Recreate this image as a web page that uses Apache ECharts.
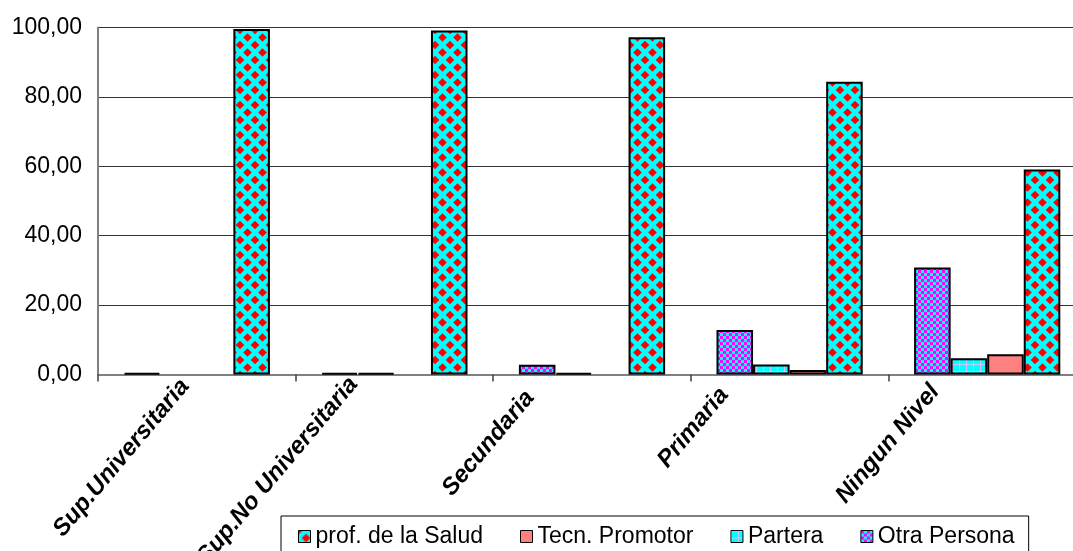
<!DOCTYPE html>
<html>
<head>
<meta charset="utf-8">
<script src="https://cdn.jsdelivr.net/npm/echarts@6/dist/echarts.min.js"></script>
<style>
html,body{margin:0;padding:0;background:#fff;}
#chart{width:1073px;height:551px;}
</style>
</head>
<body>
<div id="chart"></div>
<script>
const categories = ['Sup.Universitaria', 'Sup.No Universitaria', 'Secundaria', 'Primaria', 'Ningun Nivel'];
const otraPersona = [0.5, 0.5, 2.8, 12.8, 30.8];
const partera = [0, 0.4, 0.5, 2.9, 4.7];
const tecnPromotor = [0, 0, 0, 1.3, 5.8];
const profSalud = [99.6, 99.1, 97.2, 84.4, 59.1];
const legendOrder = ['prof. de la Salud', 'Tecn. Promotor', 'Partera', 'Otra Persona'];
const yTicks = { min: 0, max: 100, interval: 20 };

// label placement styles (per category), position only
const labelRich = ['l0', 'l1', 'l2', 'l3', 'l4'];
const FONT = 'Liberation Sans, Arial, sans-serif';
const baseLbl = { fontSize: 24, fontWeight: 'bold', fontStyle: 'italic', color: '#000', fontFamily: FONT };
const rich = {
  l0: Object.assign({ padding: [0, 9, 16, 0] }, baseLbl),
  l1: Object.assign({ padding: [0, 26, 63, 0] }, baseLbl),
  l2: Object.assign({ padding: [0, 50, 78, 0] }, baseLbl),
  l3: Object.assign({ padding: [0, 50, 87, 0] }, baseLbl),
  l4: Object.assign({ padding: [0, 39, 71, 0] }, baseLbl)
};

function makeCanvas(w, h, draw) {
  const c = document.createElement('canvas');
  c.width = w; c.height = h;
  draw(c.getContext('2d'));
  return c;
}
const diamondPat = makeCanvas(15, 15, function (ctx) {
  ctx.fillStyle = '#00FFFF'; ctx.fillRect(0, 0, 15, 15);
  ctx.fillStyle = '#FF0000';
  const d = function (cx, cy, r) {
    ctx.beginPath(); ctx.moveTo(cx, cy - r); ctx.lineTo(cx + r, cy); ctx.lineTo(cx, cy + r); ctx.lineTo(cx - r, cy); ctx.closePath(); ctx.fill();
  };
  const r = 4.3;
  d(7.5, 7.5, r); d(0, 0, r); d(15, 0, r); d(0, 15, r); d(15, 15, r);
});
const gridPat = makeCanvas(7, 7, function (ctx) {
  ctx.fillStyle = '#00FFFF'; ctx.fillRect(0, 0, 7, 7);
  ctx.fillStyle = '#C8C8FF'; ctx.fillRect(0, 0, 7, 1); ctx.fillRect(0, 0, 1, 7);
});
const checkPat = makeCanvas(6, 6, function (ctx) {
  ctx.fillStyle = '#00FFFF'; ctx.fillRect(0, 0, 6, 6);
  ctx.fillStyle = '#FF00FF'; ctx.fillRect(0, 0, 3, 3); ctx.fillRect(3, 3, 3, 3);
});

function bar(name, data, color) {
  return {
    name: name, type: 'bar',
    data: data.map(function (v) { return v === 0 ? { value: 0, itemStyle: { borderWidth: 0 } } : v; }),
    barGap: '0%', barCategoryGap: '26%',
    itemStyle: { color: color, borderColor: '#000', borderWidth: 2 },
    emphasis: { disabled: true }
  };
}

const chart = echarts.init(document.getElementById('chart'), null, { renderer: 'canvas' });
chart.setOption({
  animation: false,
  backgroundColor: '#fff',
  textStyle: { fontFamily: FONT },
  grid: { left: 98, right: -13, top: 27.5, bottom: 176.5, containLabel: false, outerBoundsMode: 'none' },
  legend: {
    data: legendOrder,
    left: 281, top: 516,
    padding: [9, 14, 10, 17],
    itemWidth: 12, itemHeight: 12, itemGap: 37,
    icon: 'rect',
    borderColor: '#000', borderWidth: 1,
    itemStyle: { borderWidth: 1, borderColor: '#000' },
    textStyle: { fontSize: 23, color: '#000', fontFamily: FONT }
  },
  xAxis: {
    type: 'category', data: categories,
    axisLine: { lineStyle: { color: '#808080', width: 2 } },
    axisTick: { show: true, length: 7, lineStyle: { color: '#404040', width: 1.5 } },
    axisLabel: {
      rotate: 50, margin: 6, interval: 0,
      fontSize: 24, fontWeight: 'bold', fontStyle: 'italic', color: '#000', fontFamily: FONT,
      formatter: function (v, i) { return '{' + labelRich[i] + '|' + v + '}'; },
      rich: rich
    }
  },
  yAxis: {
    type: 'value', min: yTicks.min, max: yTicks.max, interval: yTicks.interval,
    axisLine: { show: true, lineStyle: { color: '#808080', width: 2 } },
    axisTick: { show: false },
    splitLine: { lineStyle: { color: '#333', width: 1 } },
    axisLabel: {
      margin: 16, fontSize: 23, color: '#000', fontFamily: FONT,
      formatter: function (v) { return v.toFixed(2).replace('.', ','); }
    }
  },
  series: [
    bar('Otra Persona', otraPersona, { image: checkPat, repeat: 'repeat' }),
    bar('Partera', partera, { image: gridPat, repeat: 'repeat' }),
    bar('Tecn. Promotor', tecnPromotor, '#FF8080'),
    bar('prof. de la Salud', profSalud, { image: diamondPat, repeat: 'repeat' })
  ]
});
</script>
</body>
</html>
